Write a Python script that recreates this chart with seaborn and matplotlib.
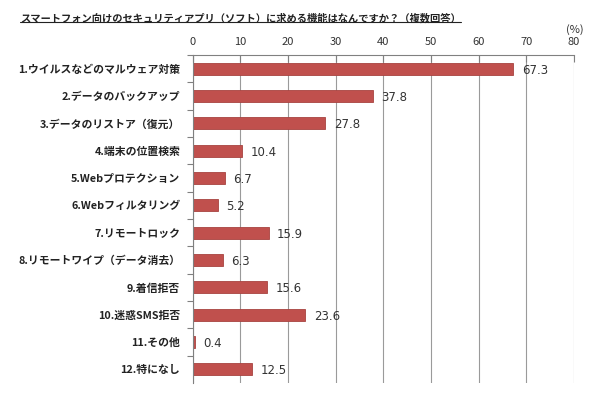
import matplotlib
matplotlib.use("Agg")
import matplotlib.pyplot as plt
import seaborn as sns
import pandas as pd
import numpy as np

categories = [
    "1.ウイルスなどのマルウェア対策",
    "2.データのバックアップ",
    "3.データのリストア（復元）",
    "4.端末の位置検索",
    "5.Webプロテクション",
    "6.Webフィルタリング",
    "7.リモートロック",
    "8.リモートワイプ（データ消去）",
    "9.着信拒否",
    "10.迷惑SMS拒否",
    "11.その他",
    "12.特になし",
]
values = [67.3, 37.8, 27.8, 10.4, 6.7, 5.2, 15.9, 6.3, 15.6, 23.6, 0.4, 12.5]
value_labels = ["67.3", "37.8", "27.8", "10.4", "6.7", "5.2", "15.9", "6.3", "15.6", "23.6", "0.4", "12.5"]
x_ticks = [0, 10, 20, 30, 40, 50, 60, 70, 80]
title = "スマートフォン向けのセキュリティアプリ（ソフト）に求める機能はなんですか？（複数回答）"

sns.set_theme(style="white")
plt.rcParams['font.family'] = ['Noto Sans CJK JP', 'DejaVu Sans']

df = pd.DataFrame({"cat": categories, "val": values})

fig = plt.figure(figsize=(6.1, 4.0), dpi=100)
ax = fig.add_axes([0.316, 0.0425, 0.625, 0.82])

sns.barplot(data=df, x="val", y="cat", orient="h", color="#C0504D",
            width=0.44, edgecolor="#A84340", linewidth=0.6, ax=ax, saturation=1)

ax.set_xlim(0, 80)
ax.set_ylim(len(categories) - 0.5, -0.5)
ax.set_xticks(x_ticks)
ax.xaxis.tick_top()
ax.tick_params(axis="x", which="both", top=True, bottom=False, direction="in",
               length=5, width=0.8, color="#808080", labelsize=8, pad=6,
               labelcolor="#333333")
ax.xaxis.grid(True, color="#9A9A9A", linewidth=0.8)
ax.set_axisbelow(True)

ax.set_yticks(np.arange(len(categories)) - 0.5, minor=True)
ax.set_yticks(np.arange(len(categories)))
ax.set_yticklabels(categories, fontsize=7.8, fontweight="bold", color="#222222")
ax.tick_params(axis="y", which="major", left=False, length=0, pad=9)
ax.tick_params(axis="y", which="minor", left=True, direction="out",
               length=4, width=0.8, color="#808080")
ax.set_xlabel("")
ax.set_ylabel("")

for s in ["right", "bottom"]:
    ax.spines[s].set_visible(False)
for s in ["left", "top"]:
    ax.spines[s].set_color("#808080")
    ax.spines[s].set_linewidth(0.8)

for i, (v, lab) in enumerate(zip(values, value_labels)):
    ax.text(v + 1.8, i + 0.05, lab, va="center", ha="left", fontsize=8.5,
            color="#333333", family=['DejaVu Sans'])

t = fig.text(0.033, 0.955, title, fontsize=7.4, fontweight="bold", ha="left",
             va="center", color="#222222")
fig.canvas.draw()
bb = t.get_window_extent().transformed(fig.transFigure.inverted())
fig.add_artist(plt.Line2D([bb.x0, bb.x1], [bb.y0 + 0.002, bb.y0 + 0.002], color="#222222",
                          linewidth=0.8, transform=fig.transFigure))
fig.text(0.943, 0.925, "(%)", fontsize=8, ha="center", va="center", color="#333333")

fig.savefig("out.png", dpi=100, facecolor="white")
